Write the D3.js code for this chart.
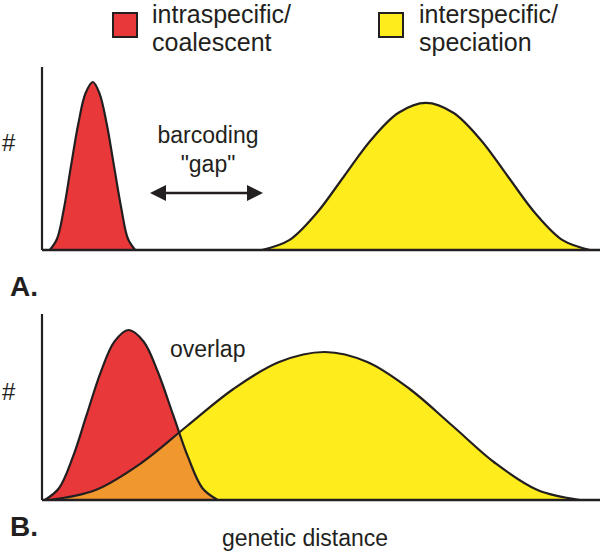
<!DOCTYPE html><html><head><meta charset="utf-8">
<script src="https://cdn.jsdelivr.net/npm/d3@7"></script>
<style>body{margin:0;background:#fff}text{font-family:"Liberation Sans",Arial,sans-serif;fill:#231f20}</style></head><body>
<svg id="c" width="600" height="552"></svg>
<script>
// genetic distance (0-100) vs frequency (0-100)
const redA_x=[1.4,2.7,3.95,5.2,6.5,7.8,9.1,10.3,11.6,12.9,14.2,15.4,16.7];
const redA_y=[0,6.2,23.1,46.2,69.2,86.1,92.3,86.1,69.2,46.2,23.1,6.2,0];
const yelA_x=[39.4,44.3,49.2,54.1,59.0,63.9,68.8,73.7,78.6,83.5,88.4,93.3,98.2];
const yelA_y=[0,5.4,20.2,40.4,60.6,75.4,80.8,75.4,60.6,40.4,20.2,5.4,0];
const redB_x=[0.5,3.0,5.5,8.0,10.5,13.0,15.5,18.2,20.8,23.5,26.2,28.8,31.5];
const redB_y=[0,6.2,23,46,68.9,85.7,91.9,85.7,68.9,46,23,6.2,0];
const yelB_x=[1.4,9.6,17.8,26.0,34.3,42.5,50.7,58.3,65.9,73.6,81.2,88.8,96.4];
const yelB_y=[0,5.4,20,40,60,74.6,80,74.6,60,40,20,5.4,0];
const legendLabels=[["intraspecific/","coalescent"],["interspecific/","speciation"]];
const colors={red:"#e8383a",yellow:"#ffec1c",orange:"#f0972e"};

const svg=d3.select("#c");
const x=d3.scaleLinear().domain([0,100]).range([42,600]);
const zip=(a,b)=>a.map((v,i)=>[v,b[i]]);

function panel(yTop,yBase,red,yel,id,overlap){
  const y=d3.scaleLinear().domain([0,100]).range([yBase,yTop]);
  const area=d3.area().x(d=>x(d[0])).y0(yBase).y1(d=>y(d[1])).curve(d3.curveCatmullRom);
  const line=d3.line().x(d=>x(d[0])).y(d=>y(d[1])).curve(d3.curveCatmullRom);
  const g=svg.append("g");
  g.append("path").attr("d",area(red)).attr("fill",colors.red);
  g.append("path").attr("d",area(yel)).attr("fill",colors.yellow);
  if(overlap){
    svg.append("clipPath").attr("id",id).append("path").attr("d",area(red));
    g.append("path").attr("d",area(yel)).attr("fill",colors.orange).attr("clip-path",`url(#${id})`);
  }
  g.append("path").attr("d",line(red)).attr("fill","none").attr("stroke","#231f20").attr("stroke-width",2.2);
  g.append("path").attr("d",line(yel)).attr("fill","none").attr("stroke","#231f20").attr("stroke-width",2.2);
  g.append("line").attr("x1",x(0)).attr("x2",x(0)).attr("y1",yTop-1).attr("y2",yBase).attr("stroke","#231f20").attr("stroke-width",2.2);
  g.append("line").attr("x1",x(0)).attr("x2",600).attr("y1",yBase).attr("y2",yBase).attr("stroke","#231f20").attr("stroke-width",2.5);
  g.append("text").attr("x",2).attr("y",(yTop+yBase)/2-8).attr("font-size",24).text("#");
}
panel(68,250,zip(redA_x,redA_y),zip(yelA_x,yelA_y),"cA",false);
panel(315,500,zip(redB_x,redB_y),zip(yelB_x,yelB_y),"cB",true);

// legend
[[colors.red,113,152],[colors.yellow,379,419]].forEach((d,i)=>{
  svg.append("rect").attr("x",d[1]).attr("y",13).attr("width",24).attr("height",24).attr("fill",d[0]).attr("stroke","#231f20").attr("stroke-width",2);
  svg.append("text").attr("x",d[2]).attr("y",23).attr("font-size",25).text(legendLabels[i][0]);
  svg.append("text").attr("x",d[2]).attr("y",51).attr("font-size",25).text(legendLabels[i][1]);
});
svg.append("text").attr("x",10).attr("y",296).attr("font-size",28).attr("font-weight","bold").text("A.");
svg.append("text").attr("x",10).attr("y",536).attr("font-size",28).attr("font-weight","bold").text("B.");
svg.append("text").attr("x",208).attr("y",143).attr("text-anchor","middle").attr("font-size",23).text("barcoding");
svg.append("text").attr("x",208).attr("y",172).attr("text-anchor","middle").attr("font-size",23).text("\"gap\"");
svg.append("text").attr("x",170).attr("y",357).attr("font-size",23).text("overlap");
svg.append("text").attr("x",305).attr("y",546).attr("text-anchor","middle").attr("font-size",23).text("genetic distance");
// arrow
svg.append("line").attr("x1",160).attr("x2",252).attr("y1",193).attr("y2",193).attr("stroke","#231f20").attr("stroke-width",2.5);
svg.append("path").attr("d","M150,193 L166,185 L166,201 Z").attr("fill","#231f20");
svg.append("path").attr("d","M263,193 L247,185 L247,201 Z").attr("fill","#231f20");
</script></body></html>
